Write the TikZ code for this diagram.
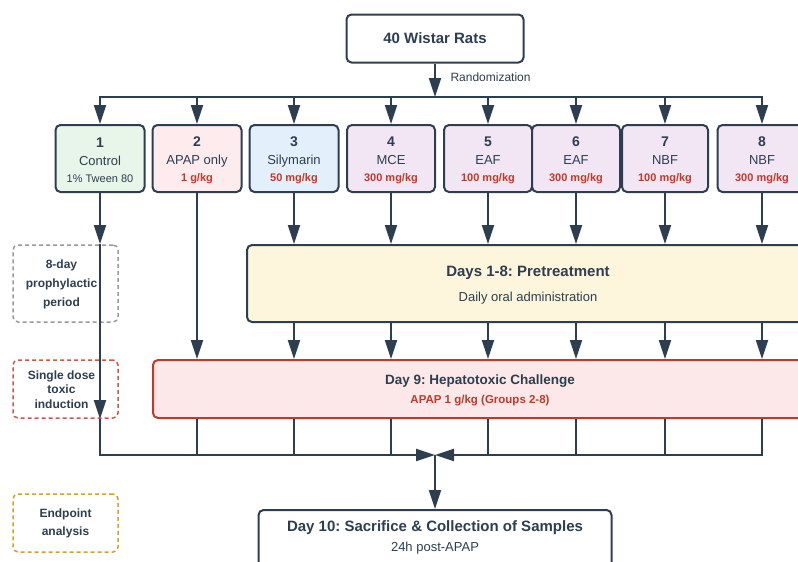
\documentclass[tikz,border=0pt]{standalone}
\usepackage{fontspec}
\setmainfont{Liberation Sans}
\usetikzlibrary{arrows.meta,positioning,calc}
\frenchspacing

\definecolor{ink}{HTML}{2C3E50}
\definecolor{redtxt}{HTML}{C0392B}
\definecolor{grpA}{HTML}{E8F5E9}
\definecolor{grpB}{HTML}{FDEBEE}
\definecolor{grpC}{HTML}{E3F0FB}
\definecolor{grpD}{HTML}{F2E6F5}
\definecolor{pretx}{HTML}{FDF6DC}
\definecolor{chall}{HTML}{FCE8E8}
\definecolor{graydash}{HTML}{9A9A9A}
\definecolor{reddash}{HTML}{D0574A}
\definecolor{golddash}{HTML}{D4A12A}

\begin{document}
\begin{tikzpicture}[x=1pt, y=-1pt,
    every node/.style={text=ink},
    box/.style={draw=ink, line width=2pt, rounded corners=5pt},
    grpbox/.style={box, minimum height=67pt, inner sep=0pt, align=center,
        font=\fontsize{13}{17.5}\selectfont},
    sidebox/.style={line width=1.5pt, dash pattern=on 4pt off 3pt, rounded corners=5pt,
        minimum width=105pt, inner sep=0pt},
    sidetext/.style={align=center, inner sep=0pt, text=ink},
    arr/.style={draw=ink, line width=2pt, -{Triangle[length=19pt,width=12pt]}},
    link/.style={draw=ink, line width=2pt},
]

    \useasboundingbox (0,0) rectangle (798,562);

    % 1. Awal: 40 tikus dan randomisasi
    \node[box, fill=white, minimum width=177pt, minimum height=48pt,
          font=\fontsize{15}{18}\selectfont\bfseries] (rats) at (435,38.5) {40 Wistar Rats};
    \coordinate (split) at (435,97);
    \node[anchor=base west, font=\fontsize{12}{14}\selectfont] (rand) at (447,81) {Randomization};

    % 2. Kelompok perlakuan 1-8
    \foreach \n/\cx/\w/\col/\name/\dose/\dcol/\dfont in {
        1/100/89/grpA/Control/{1\% Tween 80}/ink/\mdseries,
        2/197/89/grpB/{APAP only}/{1 g/kg}/redtxt/\bfseries,
        3/294/89/grpC/Silymarin/{50 mg/kg}/redtxt/\bfseries,
        4/391/88/grpD/MCE/{300 mg/kg}/redtxt/\bfseries,
        5/488/88/grpD/EAF/{100 mg/kg}/redtxt/\bfseries,
        6/576/88/grpD/EAF/{300 mg/kg}/redtxt/\bfseries,
        7/665/86/grpD/NBF/{100 mg/kg}/redtxt/\bfseries,
        8/762/89/grpD/NBF/{300 mg/kg}/redtxt/\bfseries} {
        \node[grpbox, fill=\col, minimum width=\w pt] (g\n) at (\cx,158.5)
            {\rule{0pt}{14pt}{\fontsize{14}{17.5}\selectfont\bfseries\n}\\ \name\\ {\color{\dcol}\fontsize{11}{17.5}\selectfont\dfont\dose}};
    }

    % 3. Kotak fase
    \node[box, fill=pretx, minimum width=562pt, minimum height=77pt] (pre) at (528,283.5) {};
    \node[anchor=base, font=\fontsize{15}{18}\selectfont\bfseries] (pretitle) at (528,276) {Days 1-8: Pretreatment};
    \node[anchor=base, font=\fontsize{13}{16}\selectfont] (presub) at (528,301) {Daily oral administration};

    \node[box, draw=redtxt, fill=chall, minimum width=654pt, minimum height=58pt] (chal) at (480,389) {};
    \node[anchor=base, font=\fontsize{13.5}{16}\selectfont\bfseries] (chaltitle) at (480,384) {Day 9: Hepatotoxic Challenge};
    \node[anchor=base, font=\fontsize{11.5}{14}\selectfont\bfseries, text=redtxt] (chalsub) at (480,403) {APAP 1 g/kg (Groups 2-8)};

    \node[box, fill=white, minimum width=353pt, minimum height=90pt, anchor=north] (sac) at (435,509) {};
    \node[anchor=base, font=\fontsize{15}{18}\selectfont\bfseries] (sactitle) at (435,531) {Day 10: Sacrifice \& Collection of Samples};
    \node[anchor=base, font=\fontsize{13}{16}\selectfont] (sacsub) at (435,551) {24h post-APAP};

    % 4. Label periode (kiri)
    \node[sidebox, draw=graydash, minimum height=77pt] (side1) at (65.5,283.5) {};
    \node[sidetext, font=\fontsize{12}{19}\selectfont\bfseries] (side1txt) at (61.5,284) {8-day\\prophylactic\\period};
    \node[sidebox, draw=reddash, minimum height=58pt] (side2) at (65.5,389) {};
    \node[sidetext, font=\fontsize{12}{14.5}\selectfont\bfseries] (side2txt) at (61.5,389.5) {Single dose\\toxic\\induction};
    \node[sidebox, draw=golddash, minimum height=58pt] (side3) at (65.5,523) {};
    \node[sidetext, font=\fontsize{12}{18}\selectfont\bfseries] (side3txt) at (65.5,523) {Endpoint\\analysis};

    % 5. Panah randomisasi
    \draw[arr] (rats.south) -- (split);
    \draw[arr] (split) -| (g1.north);
    \draw[arr] (split) -| (g8.north);
    \foreach \i in {2,...,7}
        \draw[arr] (g\i.north |- split) -- (g\i.north);

    % 6. Panah fase
    \coordinate (merge) at (435,455);
    \coordinate (c1) at (g1.south |- pre.north);
    \coordinate (c2) at (g1.south |- chal.south);
    \draw[arr] (g1.south) -- (c1);
    \draw[arr] (c1) -- (c2);
    \draw[arr] (g2.south) -- (g2.south |- chal.north);
    \foreach \i in {3,...,8} {
        \draw[arr] (g\i.south) -- (g\i.south |- pre.north);
        \draw[arr] (g\i.south |- pre.south) -- (g\i.south |- chal.north);
    }

    % 7. Penggabungan ke hari 10
    \foreach \i in {2,...,7}
        \draw[link] (g\i.south |- chal.south) -- (g\i.south |- merge);
    \draw[arr] (c2) -- (g1.south |- merge) -- (merge);
    \draw[arr] (g8.south |- chal.south) -- (g8.south |- merge) -- (merge);
    \draw[arr] (merge) -- (sac.north);

\end{tikzpicture}
\end{document}
